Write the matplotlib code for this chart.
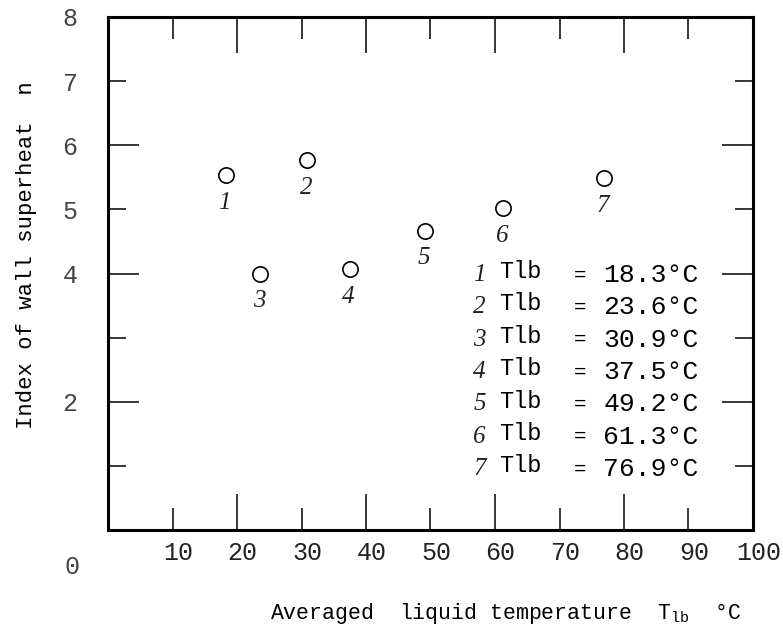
import matplotlib
matplotlib.use("Agg")
import matplotlib.pyplot as plt
import matplotlib.transforms as mtransforms

plt.rcParams["font.family"] = ["Liberation Mono", "DejaVu Sans Mono"]

# averaged liquid temperature of each run (deg C) and the fitted index n
run_ids = ["1", "2", "3", "4", "5", "6", "7"]
t_lb = [18.3, 23.6, 30.9, 37.5, 49.2, 61.3, 76.9]
n_index = [5.53, 4.00, 5.77, 4.07, 4.67, 5.02, 5.49]
# tag written under each circle
point_tags = ["1", "3", "2", "4", "5", "6", "7"]

x_major = [20, 40, 60, 80, 100]
x_minor = [10, 30, 50, 70, 90]
y_major = [2, 4, 6, 8]
y_minor = [1, 3, 5, 7]
y_major_labels = ["2", "4", "6", "8"]
y_minor_labels = ["", "", "5", "7"]

HAND = dict(family="Liberation Serif", style="italic", fontweight="light")

fig = plt.figure(figsize=(7.83, 6.33), dpi=100)
ax = fig.add_axes([108 / 783, 103 / 633, 645 / 783, 513 / 633])

ax.plot(t_lb, n_index, "o", ms=11, mfc="white", mec="black", mew=1.2,
        linestyle="none", zorder=3)
for x, y, tag in zip(t_lb, n_index, point_tags):
    ax.annotate(tag, (x, y), xytext=(-1, -20), textcoords="offset points",
                ha="center", va="center", fontsize=18, color="#222222", **HAND)

ax.set_xlim(0, 100)
ax.set_ylim(0, 8)

ax.set_xticks(x_major)
ax.set_xticks(x_minor, minor=True)
ax.set_xticklabels([str(v) for v in x_major])
ax.set_xticklabels([str(v) for v in x_minor], minor=True)
ax.set_yticks(y_major)
ax.set_yticks(y_minor, minor=True)
ax.set_yticklabels(y_major_labels)
ax.set_yticklabels(y_minor_labels, minor=True)

ax.tick_params(axis="both", which="both", direction="in", top=True,
               right=True, width=1.1, labelsize=18, colors="black")
ax.tick_params(axis="x", which="major", length=26, pad=8)
ax.tick_params(axis="x", which="minor", length=16, pad=8)
ax.tick_params(axis="y", which="major", length=22, pad=22)
ax.tick_params(axis="y", which="minor", length=13, pad=22)

# x numbers sit a little right of their ticks
shift = mtransforms.ScaledTranslation(4 / 72, 0, fig.dpi_scale_trans)
for lab in ax.get_xticklabels(which="both"):
    lab.set_transform(lab.get_transform() + shift)
    lab.set_color("#222222")
for lab in ax.get_yticklabels(which="both"):
    lab.set_color("#444444")

for sp in ax.spines.values():
    sp.set_linewidth(2.2)

ax.text(-0.056, -0.072, "0", transform=ax.transAxes, ha="center",
        va="center", fontsize=18, color="#444444")

# legend block listing each run
row_y = 3.98
for rid, t in zip(run_ids, t_lb):
    ax.text(57.6, row_y, rid, ha="center", va="center", fontsize=18,
            color="#222222", **HAND)
    ax.text(60.6, row_y + 0.05, "Tlb", ha="left", va="center", fontsize=17)
    ax.text(73.2, row_y, "=", ha="center", va="center", fontsize=15)
    ax.text(76.8, row_y, f"{t:.1f}°C", ha="left", va="center", fontsize=19)
    row_y -= 0.505

ax.set_xlabel(r"Averaged  liquid temperature  $\mathregular{T_{lb}}$  °C",
              fontsize=15.5, labelpad=26, x=0.617)
ax.set_ylabel("Index of wall superheat  n", fontsize=16, labelpad=18, y=0.536)

fig.savefig("out.png", dpi=100)
